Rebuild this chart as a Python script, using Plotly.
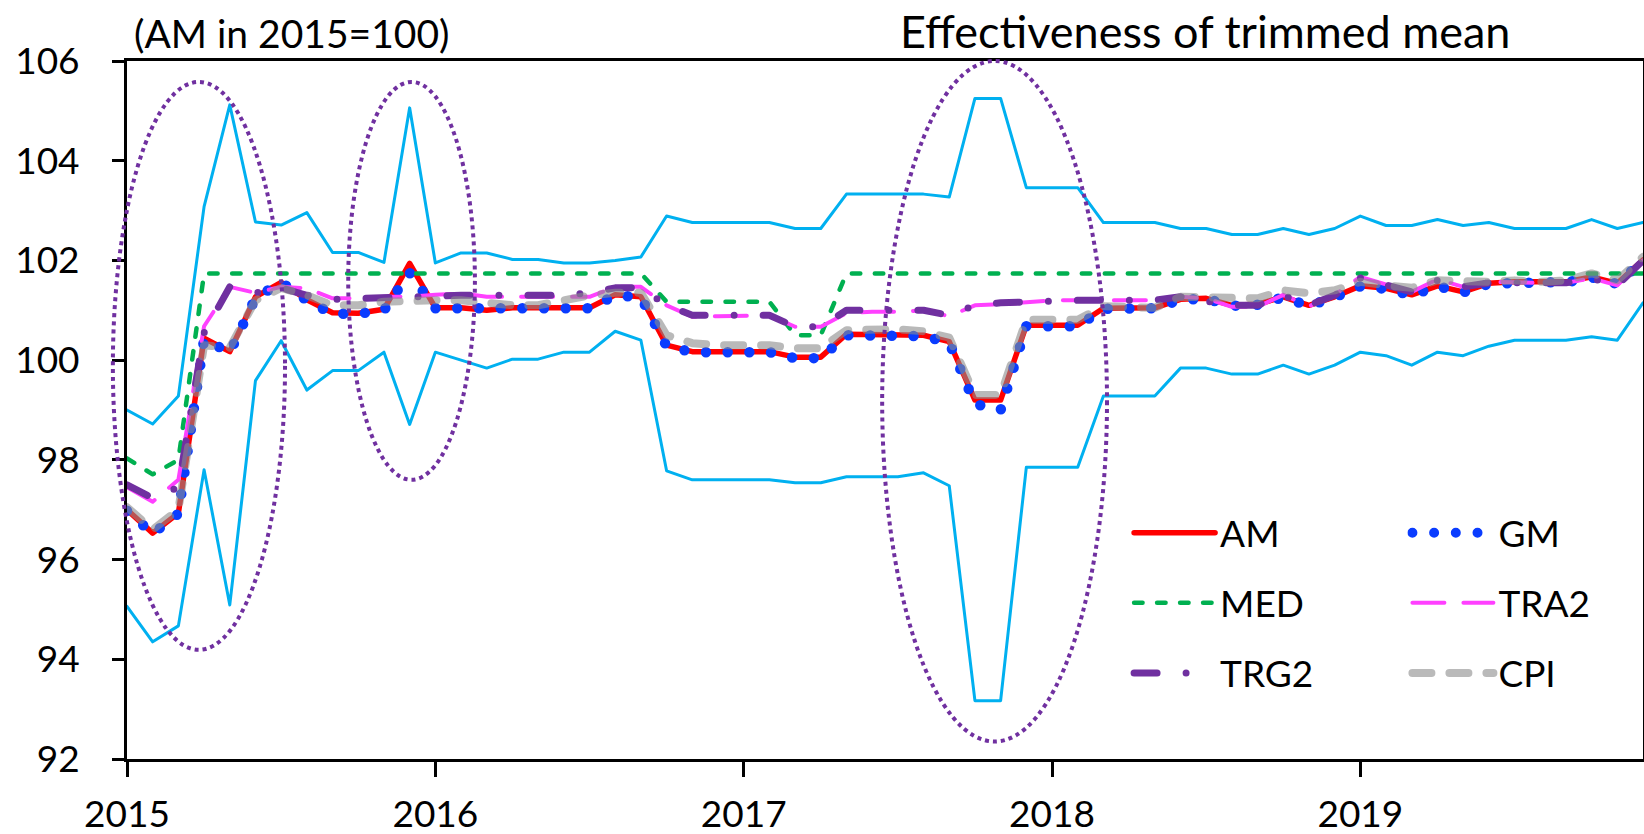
import plotly.graph_objects as go

# ---------------- data ----------------
years = ["2015", "2016", "2017", "2018", "2019"]
months = [f"{y}-{m:02d}" for y in years for m in range(1, 13)]

upper = [99.00, 98.72, 99.28, 103.08, 105.12, 102.77, 102.71, 102.96, 102.16, 102.16,
         101.96, 105.06, 101.95, 102.15, 102.15, 102.02, 102.02, 101.95, 101.95, 102.00,
         102.07, 102.89, 102.76, 102.76, 102.76, 102.76, 102.64, 102.64, 103.33, 103.33,
         103.33, 103.33, 103.27, 105.25, 105.25, 103.46, 103.46, 103.46, 102.76, 102.76,
         102.76, 102.64, 102.64, 102.52, 102.52, 102.64, 102.52, 102.64, 102.89, 102.70,
         102.70, 102.82, 102.70, 102.76, 102.64, 102.64, 102.64, 102.82, 102.64, 102.76]

lower = [95.06, 94.35, 94.67, 97.80, 95.09, 99.59, 100.39, 99.40, 99.79, 99.79,
         100.16, 98.71, 100.16, 100.00, 99.84, 100.02, 100.02, 100.16, 100.16, 100.58,
         100.40, 97.78, 97.60, 97.60, 97.60, 97.60, 97.54, 97.54, 97.66, 97.66,
         97.66, 97.74, 97.48, 93.17, 93.17, 97.85, 97.85, 97.85, 99.28, 99.28,
         99.28, 99.84, 99.84, 99.72, 99.72, 99.90, 99.72, 99.90, 100.16, 100.09,
         99.90, 100.16, 100.09, 100.28, 100.40, 100.40, 100.40, 100.47, 100.40, 101.15]

am = [97.00, 96.53, 96.93, 100.44, 100.17, 101.27, 101.56, 101.21, 100.95, 100.94,
      101.02, 101.94, 101.05, 101.05, 101.00, 101.05, 101.05, 101.05, 101.05, 101.31,
      101.27, 100.30, 100.17, 100.17, 100.17, 100.17, 100.06, 100.06, 100.52, 100.52,
      100.52, 100.50, 100.37, 99.20, 99.20, 100.70, 100.70, 100.70, 101.04, 101.04,
      101.05, 101.22, 101.24, 101.10, 101.12, 101.27, 101.10, 101.27, 101.49, 101.44,
      101.31, 101.49, 101.37, 101.54, 101.57, 101.57, 101.57, 101.67, 101.54, 102.01]

gm = [96.98, 96.52, 96.92, 100.42, 100.15, 101.25, 101.56, 101.20, 100.93, 100.93,
      101.00, 101.75, 101.04, 101.04, 100.99, 101.04, 101.04, 101.04, 101.04, 101.30,
      101.26, 100.28, 100.16, 100.16, 100.16, 100.16, 100.04, 100.04, 100.50, 100.50,
      100.50, 100.48, 100.35, 99.12, 99.00, 100.68, 100.68, 100.68, 101.03, 101.03,
      101.04, 101.21, 101.23, 101.09, 101.11, 101.26, 101.09, 101.26, 101.48, 101.43,
      101.30, 101.48, 101.36, 101.53, 101.56, 101.56, 101.56, 101.66, 101.53, 102.00]

med = [98.03, 97.71, 98.00, 101.74, 101.74, 101.74, 101.74, 101.74, 101.74, 101.74,
       101.74, 101.74, 101.74, 101.74, 101.74, 101.74, 101.74, 101.74, 101.74, 101.74,
       101.74, 101.17, 101.17, 101.17, 101.17, 101.17, 100.50, 100.50, 101.74, 101.74,
       101.74, 101.74, 101.74, 101.74, 101.74, 101.74, 101.74, 101.74, 101.74, 101.74,
       101.74, 101.74, 101.74, 101.74, 101.74, 101.74, 101.74, 101.74, 101.74, 101.74,
       101.74, 101.74, 101.74, 101.74, 101.74, 101.74, 101.74, 101.74, 101.74, 101.74]

tra2 = [97.45, 97.16, 97.60, 100.68, 101.47, 101.35, 101.47, 101.44, 101.24, 101.24,
        101.27, 101.27, 101.31, 101.34, 101.27, 101.27, 101.27, 101.27, 101.27, 101.47,
        101.47, 101.10, 100.87, 100.88, 100.88, 100.90, 100.67, 100.67, 100.94, 100.97,
        100.97, 101.00, 100.88, 101.10, 101.12, 101.17, 101.20, 101.20, 101.20, 101.20,
        101.20, 101.27, 101.24, 101.07, 101.07, 101.31, 101.08, 101.31, 101.67, 101.52,
        101.37, 101.62, 101.47, 101.57, 101.55, 101.55, 101.55, 101.64, 101.50, 102.00]

trg2 = [97.50, 97.23, 97.45, 100.55, 101.47, 101.35, 101.45, 101.30, 101.22, 101.24,
        101.27, 101.27, 101.30, 101.30, 101.30, 101.30, 101.30, 101.30, 101.35, 101.45,
        101.45, 101.10, 100.90, 100.90, 100.90, 100.90, 100.67, 100.67, 101.00, 101.00,
        101.00, 101.00, 100.90, 101.10, 101.15, 101.17, 101.20, 101.20, 101.20, 101.20,
        101.20, 101.27, 101.20, 101.10, 101.10, 101.30, 101.10, 101.30, 101.65, 101.52,
        101.37, 101.60, 101.47, 101.55, 101.55, 101.55, 101.55, 101.64, 101.50, 102.00]

cpi = [97.05, 96.60, 97.00, 100.30, 100.25, 101.20, 101.45, 101.30, 101.10, 101.10,
       101.17, 101.20, 101.20, 101.20, 101.14, 101.10, 101.10, 101.22, 101.30, 101.35,
       101.35, 100.50, 100.34, 100.30, 100.30, 100.30, 100.24, 100.24, 100.60, 100.62,
       100.62, 100.58, 100.45, 99.30, 99.30, 100.81, 100.81, 100.81, 101.08, 101.05,
       101.05, 101.27, 101.27, 101.27, 101.24, 101.40, 101.34, 101.40, 101.57, 101.50,
       101.45, 101.60, 101.57, 101.57, 101.60, 101.57, 101.60, 101.74, 101.60, 102.07]

# highlighted regions (month index / index value)
ellipses = [(-0.55, 6.15, 94.19, 105.58),
            (8.61, 13.54, 97.60, 105.58),
            (29.39, 38.14, 92.35, 106.00)]

Y_MIN, Y_MAX = 92, 106
X_MIN, X_MAX = 0, len(months) - 1

FONT = "Lato"

fig = go.Figure()


def add(name, y, color, width, dash, legend="legend", show=True, opacity=1.0):
    fig.add_trace(go.Scatter(
        x=months, y=y, name=name, mode="lines",
        line=dict(color=color, width=width, dash=dash),
        legend=legend, legendgroup=name, showlegend=show,
        opacity=opacity, hoverinfo="skip"))


add("max", upper, "#00B0F0", 3, "solid", show=False)
add("min", lower, "#00B0F0", 3, "solid", show=False)
add("AM", am, "#FF0000", 5.5, "solid", legend="legend")
add("GM", gm, "#0A3CFF", 10.5, "0px,21.7px", legend="legend2")
add("MED", med, "#00B050", 4.5, "8.5px,14.5px", legend="legend")
add("TRA2", tra2, "#FF40FF", 4, "32px,19px", legend="legend2")
add("TRG2", trg2, "#7030A0", 7, "23px,29px,0px,29px", legend="legend")
add("CPI", cpi, "rgb(140,140,140)", 8, "19px,18px", legend="legend2", opacity=0.6)

shapes = []
for x0, x1, y0, y1 in ellipses:
    shapes.append(dict(
        type="circle", xref="paper", yref="paper",
        x0=(x0 - X_MIN) / (X_MAX - X_MIN), x1=(x1 - X_MIN) / (X_MAX - X_MIN),
        y0=(y0 - Y_MIN) / (Y_MAX - Y_MIN), y1=(y1 - Y_MIN) / (Y_MAX - Y_MIN),
        line=dict(color="#7030A0", width=4, dash="dot"), layer="above"))

legend_common = dict(
    orientation="v", bgcolor="rgba(0,0,0,0)", borderwidth=0,
    font=dict(family=FONT, size=37, color="black"),
    tracegroupgap=19, itemwidth=81, xanchor="left", yanchor="top",
    traceorder="grouped")

fig.update_layout(
    width=1644, height=834, autosize=False,
    margin=dict(l=127, r=1, t=61, b=75, autoexpand=False),
    paper_bgcolor="white", plot_bgcolor="white",
    font=dict(family=FONT, size=37, color="black"),
    shapes=shapes,
    legend=dict(x=0.661, y=0.368, **legend_common),
    legend2=dict(x=0.8446, y=0.368, **legend_common),
    xaxis=dict(
        type="category", categoryorder="array", categoryarray=months,
        range=[X_MIN, X_MAX], automargin=False,
        tickmode="array", tickvals=[f"{y}-01" for y in years], ticktext=years,
        ticks="outside", ticklen=15, tickwidth=3, tickcolor="black",
        showline=True, linewidth=3, linecolor="black", mirror=True,
        showgrid=False, zeroline=False,
        tickfont=dict(family=FONT, size=37, color="black"),
        ticklabelstandoff=6),
    yaxis=dict(
        range=[Y_MIN, Y_MAX], tickmode="linear", tick0=92, dtick=2, automargin=False,
        ticks="outside", ticklen=12, tickwidth=3, tickcolor="black",
        showline=True, linewidth=3, linecolor="black", mirror=True,
        showgrid=False, zeroline=False,
        tickfont=dict(family=FONT, size=37, color="black"),
        ticklabelstandoff=25),
    annotations=[
        dict(text="(AM in 2015=100)", xref="paper", yref="paper",
             x=(132 - 127) / 1516, y=(759 - 33) / 698, xanchor="left", yanchor="middle",
             showarrow=False, font=dict(family=FONT, size=39, color="black")),
        dict(text="Effectiveness of trimmed mean", xref="paper", yref="paper",
             x=(1205 - 127) / 1516, y=(759 - 31) / 698, xanchor="center", yanchor="middle",
             showarrow=False, font=dict(family=FONT, size=45, color="black")),
    ],
)

post = """
var s = document.createElement('style');
s.innerHTML = 'body{margin:0;} path.js-line{stroke-linecap:round;stroke-linejoin:round;}';
document.head.appendChild(s);
"""
fig.write_html("out.html", post_script=post, config={"displayModeBar": False})
